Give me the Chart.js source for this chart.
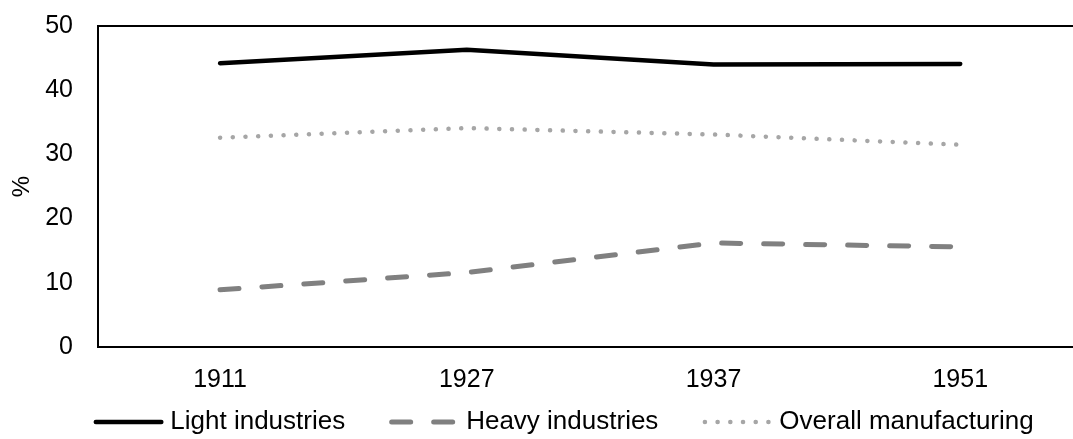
<!DOCTYPE html>
<html>
<head>
<meta charset="utf-8">
<script src="https://cdn.jsdelivr.net/npm/chart.js@4/dist/chart.umd.min.js"></script>
<style>
  body { margin: 0; background: #fff; }
  #wrap { width: 1073px; height: 439px; }
</style>
</head>
<body>
<div id="wrap"><canvas id="chart"></canvas></div>
<script>
var years = ['1911', '1927', '1937', '1951'];
var light_industries = [44.2, 46.3, 44.0, 44.1];
var heavy_industries = [8.9, 11.6, 16.2, 15.6];
var overall_manufacturing = [32.6, 34.1, 33.1, 31.5];
var y_ticks = [0, 10, 20, 30, 40, 50];

function toPoints(values) {
    return values.map(function (v, i) { return {x: i, y: v}; });
}

// Excel style frame: top line over the plot area
const topLine = {
    id: 'topLine',
    afterDraw: function (chart) {
        var ctx = chart.ctx, a = chart.chartArea;
        ctx.save();
        ctx.strokeStyle = '#000';
        ctx.lineWidth = 2;
        ctx.beginPath();
        ctx.moveTo(a.left - 1, a.top);
        ctx.lineTo(a.right, a.top);
        ctx.stroke();
        ctx.restore();
    }
};

// move the legend a bit and draw the line samples with their dash patterns
const legendLines = {
    id: 'legendLines',
    afterLayout: function (chart) {
        var lg = chart.legend;
        lg.left += 27; lg.right += 27;
        lg.top -= 40; lg.bottom = chart.height;
    },
    afterDraw: function (chart) {
        var ctx = chart.ctx;
        var boxes = chart.legend.legendHitBoxes;
        chart.data.datasets.forEach(function (ds, i) {
            var hb = boxes[i];
            var y = hb.top + hb.height / 2;
            ctx.save();
            ctx.strokeStyle = ds.borderColor;
            ctx.lineWidth = ds.borderWidth;
            ctx.lineCap = 'round';
            ctx.setLineDash(ds.borderDash || []);
            ctx.beginPath();
            ctx.moveTo(hb.left + 2.5, y);
            ctx.lineTo(hb.left + 68, y);
            ctx.stroke();
            ctx.restore();
        });
    }
};

const data = {
    datasets: [{
        label: 'Light industries',
        data: toPoints(light_industries),
        borderColor: '#000000',
        backgroundColor: '#000000',
        borderWidth: 4.5,
        borderCapStyle: 'round',
    },
    {
        label: 'Heavy industries',
        data: toPoints(heavy_industries),
        borderColor: '#808080',
        backgroundColor: '#808080',
        borderWidth: 5,
        borderDash: [19, 23],
        borderCapStyle: 'round',
    },
    {
        label: 'Overall manufacturing',
        data: toPoints(overall_manufacturing),
        borderColor: '#a6a6a6',
        backgroundColor: '#a6a6a6',
        borderWidth: 4.5,
        borderDash: [0.1, 12.6],
        borderCapStyle: 'round',
    }]
};

const config = {
    type: 'line',
    data: data,
    options: {
        responsive: true,
        maintainAspectRatio: false,
        animation: false,
        layout: {padding: {top: 0, right: 0, bottom: 0, left: 0}},
        elements: {
            point: {radius: 0, hoverRadius: 0},
            line: {tension: 0}
        },
        scales: {
            x: {
                type: 'linear',
                min: -0.4946,
                max: 3.457,
                afterBuildTicks: function (scale) {
                    scale.ticks = years.map(function (_, i) { return {value: i}; });
                },
                ticks: {
                    color: '#000',
                    font: {family: 'Liberation Sans', size: 25},
                    padding: 10,
                    callback: function (value) { return years[value]; }
                },
                grid: {display: false},
                border: {display: true, color: '#000', width: 2}
            },
            y: {
                min: 0,
                max: 50,
                afterBuildTicks: function (scale) {
                    scale.ticks = y_ticks.map(function (v) { return {value: v}; });
                },
                afterFit: function (scale) {
                    scale.width = 98;
                    scale.paddingTop = Math.max(0, scale.paddingTop - 6);
                },
                title: {
                    display: true,
                    text: '%',
                    color: '#000',
                    font: {family: 'Liberation Sans', size: 24},
                    padding: {top: 8, bottom: 0}
                },
                ticks: {
                    color: '#000',
                    font: {family: 'Liberation Sans', size: 25},
                    padding: 17
                },
                grid: {display: false},
                border: {display: true, color: '#000', width: 2}
            }
        },
        plugins: {
            legend: {
                display: true,
                position: 'bottom',
                maxHeight: 34,
                labels: {
                    usePointStyle: true,
                    pointStyle: 'line',
                    pointStyleWidth: 64,
                    color: '#000',
                    font: {family: 'Liberation Sans', size: 26},
                    padding: 44,
                    generateLabels: function (chart) {
                        var items = Chart.defaults.plugins.legend.labels.generateLabels(chart);
                        items.forEach(function (it) {
                            it.strokeStyle = 'rgba(0,0,0,0)';
                            it.fillStyle = 'rgba(0,0,0,0)';
                        });
                        return items;
                    }
                }
            },
            tooltip: {enabled: false}
        }
    },
    plugins: [topLine, legendLines]
};

const myChart = new Chart(document.getElementById('chart'), config);
</script>
</body>
</html>
